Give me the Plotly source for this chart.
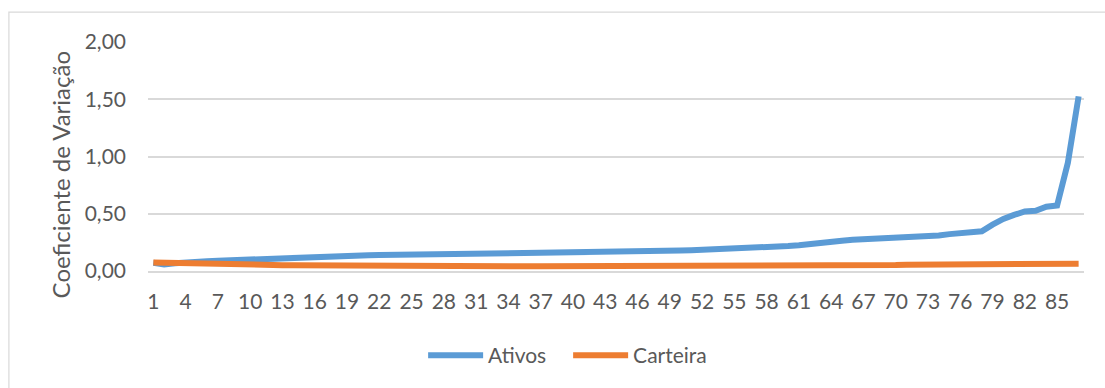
import plotly.graph_objects as go

categories = list(range(1, 88))
tick_labels = [str(c) for c in range(1, 88, 3)]

ativos = [
    0.072, 0.058, 0.068, 0.078, 0.082, 0.086, 0.090, 0.094, 0.098, 0.104,
    0.108, 0.110, 0.113, 0.116, 0.118, 0.120, 0.121, 0.126, 0.132, 0.136,
    0.138, 0.139, 0.140, 0.141, 0.142, 0.143, 0.144, 0.145, 0.146, 0.153,
    0.155, 0.156, 0.157, 0.158, 0.158, 0.159, 0.160, 0.161, 0.162, 0.163,
    0.164, 0.165, 0.166, 0.167, 0.168, 0.170, 0.172, 0.174, 0.176, 0.178,
    0.181, 0.184, 0.188, 0.193, 0.197, 0.200, 0.203, 0.207, 0.212, 0.218,
    0.225, 0.238, 0.245, 0.255, 0.265, 0.272, 0.277, 0.281, 0.284, 0.286,
    0.289, 0.293, 0.300, 0.310, 0.322, 0.334, 0.340, 0.347, 0.405, 0.455,
    0.490, 0.520, 0.526, 0.562, 0.572, 0.945, 1.525,
]

carteira = [
    0.075, 0.072, 0.070, 0.068, 0.066, 0.064, 0.062, 0.060, 0.058, 0.056,
    0.054, 0.052, 0.051, 0.050, 0.049, 0.048, 0.047, 0.046, 0.046, 0.045,
    0.045, 0.045, 0.045, 0.045, 0.044, 0.044, 0.044, 0.044, 0.044, 0.044,
    0.043, 0.043, 0.042, 0.041, 0.041, 0.041, 0.041, 0.041, 0.041, 0.041,
    0.041, 0.041, 0.041, 0.041, 0.041, 0.041, 0.041, 0.041, 0.041, 0.041,
    0.041, 0.041, 0.041, 0.041, 0.041, 0.041, 0.041, 0.041, 0.041, 0.041,
    0.042, 0.043, 0.045, 0.048, 0.050, 0.050, 0.050, 0.050, 0.050, 0.052,
    0.055, 0.056, 0.055, 0.052, 0.052, 0.052, 0.052, 0.052, 0.054, 0.056,
    0.062, 0.064, 0.065, 0.066, 0.066, 0.066, 0.064,
]

y_ticks = [0, 0.5, 1.0, 1.5, 2.0]

FONT = "Lato"
GRAY = "#595959"

W, H = 1105, 388
L, R, T, B = 147.7, 20.7, 42.3, 117.3
pw, ph = W - L - R, H - T - B

def px_x(p):
    return (p - L) / pw

def px_y(p):
    return (H - B - p) / ph

fig = go.Figure()
fig.add_trace(go.Scatter(
    x=categories, y=ativos, mode="lines", name="Ativos",
    line=dict(color="#5B9BD5", width=6, shape="linear"),
))
fig.add_trace(go.Scatter(
    x=categories, y=carteira, mode="lines", name="Carteira",
    line=dict(color="#ED7D31", width=6, shape="linear"),
))

fig.update_layout(
    width=W, height=H,
    margin=dict(l=L, r=R, t=T, b=B, pad=0),
    paper_bgcolor="white", plot_bgcolor="white",
    separators=",.",
    font=dict(family=FONT, size=21, color=GRAY),
    showlegend=True,
    legend=dict(
        orientation="h", x=px_x(423), xanchor="left",
        y=px_y(355), yanchor="middle",
        font=dict(family=FONT, size=21, color=GRAY),
        itemwidth=55, tracegroupgap=0,
        entrywidth=75, entrywidthmode="pixels",
    ),
    xaxis=dict(
        range=[0.5, 87.5], tickmode="array",
        tickvals=list(range(1, 88, 3)), ticktext=tick_labels,
        showgrid=False, zeroline=False,
        showline=True, linecolor="#D9D9D9", linewidth=1.5,
        ticks="", ticklabelstandoff=11,
        tickfont=dict(family=FONT, size=21, color=GRAY),
    ),
    yaxis=dict(
        range=[0, 2.0], tickmode="array", tickvals=y_ticks,
        tickformat=".2f",
        showgrid=True, gridcolor="#D9D9D9", gridwidth=1.5,
        zeroline=False, showline=False, ticks="",
        ticklabelstandoff=21,
        tickfont=dict(family=FONT, size=21, color=GRAY),
    ),
    annotations=[dict(
        text="Coeficiente de Variação", textangle=-90,
        xref="paper", yref="paper", x=px_x(60), y=px_y(175),
        xanchor="center", yanchor="middle", showarrow=False,
        font=dict(family=FONT, size=24, color=GRAY),
    )],
    shapes=[dict(
        type="rect", xref="paper", yref="paper",
        x0=px_x(8.5), x1=px_x(1115), y0=px_y(400), y1=px_y(12.5),
        line=dict(color="#D9D9D9", width=1.2), fillcolor="rgba(0,0,0,0)",
        layer="below",
    )],
)

fig.write_html("out.html")
